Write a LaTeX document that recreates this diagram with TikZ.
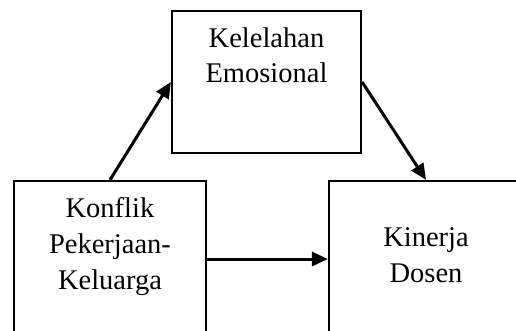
\documentclass[tikz,border=0pt]{standalone}
\usepackage{fontspec}
\setmainfont{Liberation Serif}
\usetikzlibrary{arrows.meta}
\begin{document}
\begin{tikzpicture}[x=1pt,y=-1pt,
  box/.style={draw,line width=2.2pt,inner sep=0pt},
  txt/.style={inner sep=0pt,align=center,anchor=north,font=\fontsize{28.5}{36}\selectfont},
  arr/.style={line width=3pt,-{Triangle[length=16pt,width=14pt]}}]
\useasboundingbox (0,0) rectangle (516,331);
\clip (0,0) rectangle (516,331);
\node[box,minimum width=189pt,minimum height=142pt] (emo) at (266.5,82) {};
\node[box,minimum width=192pt,minimum height=156pt] (kon) at (110,259) {};
\node[box,minimum width=194pt,minimum height=156pt] (kin) at (426,259) {};
\node[txt,font=\fontsize{28.5}{35}\selectfont] (emot) at (266.5,27.6) {Kelelahan\\Emosional};
\node[txt] (kont) at (110,197.6) {Konflik\\Pekerjaan-\\Keluarga};
\node[txt] (kint) at (426,227.6) {Kinerja\\Dosen};
\draw[arr] (kon.north) -- (emo.west);
\draw[arr] (emo.east) -- (kin.north);
\draw[arr] (kon.east) -- (kin.west);
\end{tikzpicture}
\end{document}
